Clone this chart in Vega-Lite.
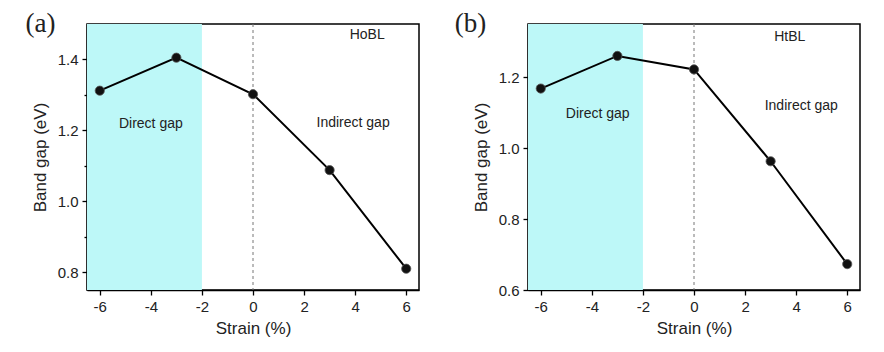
{
  "$schema": "https://vega.github.io/schema/vega-lite/v6.json",
  "background": "white",
  "padding": {"left": 24, "top": 9, "right": 10, "bottom": 5},
  "config": {
    "view": {"stroke": "black", "strokeWidth": 1.5},
    "font": "Liberation Sans",
    "axis": {
      "grid": false, "domainColor": "black", "domainWidth": 1.5, "tickColor": "black", "tickWidth": 1.3,
      "labelFont": "Liberation Sans", "labelFontSize": 15, "labelColor": "#222",
      "titleFont": "Liberation Sans", "titleFontSize": 17, "titleFontWeight": "normal", "titleColor": "#222",
      "labelPadding": 4
    }
  },
  "datasets": {
    "a": [
      {"strain": -6, "gap": 1.312},
      {"strain": -3, "gap": 1.405},
      {"strain": 0, "gap": 1.302},
      {"strain": 3, "gap": 1.088},
      {"strain": 6, "gap": 0.81}
    ],
    "b": [
      {"strain": -6, "gap": 1.168},
      {"strain": -3, "gap": 1.26},
      {"strain": 0, "gap": 1.222},
      {"strain": 3, "gap": 0.963},
      {"strain": 6, "gap": 0.673}
    ],
    "shade": [{"x1": -6.5, "x2": -2}],
    "zero": [{"x": 0}],
    "labA": [
      {"strain": -4.0, "gap": 1.217, "t": "Direct gap"},
      {"strain": 3.92, "gap": 1.222, "t": "Indirect gap"},
      {"strain": 4.47, "gap": 1.47, "t": "HoBL"}
    ],
    "labB": [
      {"strain": -3.77, "gap": 1.097, "t": "Direct gap"},
      {"strain": 4.2, "gap": 1.119, "t": "Indirect gap"},
      {"strain": 3.75, "gap": 1.314, "t": "HtBL"}
    ],
    "panA": [{"strain": -8.32, "gap": 1.5, "t": "(a)"}],
    "panB": [{"strain": -8.75, "gap": 1.35, "t": "(b)"}]
  },
  "spacing": 34,
  "hconcat": [
    {
      "width": 332, "height": 266,
      "layer": [
        {
          "data": {"name": "shade"},
          "mark": {"type": "rect", "color": "#bdf8f8"},
          "encoding": {
            "x": {"field": "x1", "type": "quantitative", "scale": {"domain": [-6.5, 6.5], "nice": false, "zero": false},
              "axis": {"values": [-6, -5, -4, -3, -2, -1, 0, 1, 2, 3, 4, 5, 6], "title": "Strain (%)", "titlePadding": 6,
                "tickSize": {"condition": {"test": "datum.value % 2 !== 0", "value": 3}, "value": 5},
                "labelExpr": "datum.value % 2 === 0 ? (datum.value < 0 ? '-' : '') + abs(datum.value) : ''"}},
            "x2": {"field": "x2"}
          }
        },
        {
          "data": {"name": "zero"},
          "mark": {"type": "rule", "color": "#777", "strokeDash": [3, 3], "strokeWidth": 1},
          "encoding": {"x": {"field": "x", "type": "quantitative"}}
        },
        {
          "data": {"name": "a"},
          "mark": {"type": "line", "color": "black", "strokeWidth": 2},
          "encoding": {
            "x": {"field": "strain", "type": "quantitative"},
            "y": {"field": "gap", "type": "quantitative", "scale": {"domain": [0.75, 1.5], "nice": false, "zero": false},
              "axis": {"values": [0.8, 0.9, 1.0, 1.1, 1.2, 1.3, 1.4], "title": "Band gap (eV)", "titlePadding": 8,
                "tickSize": {"condition": {"test": "round(datum.value * 10) % 2 !== 0", "value": 3}, "value": 5},
                "labelExpr": "round(datum.value * 10) % 2 === 0 ? format(datum.value, '.1f') : ''"}}
          }
        },
        {
          "data": {"name": "a"},
          "mark": {"type": "point", "filled": true, "color": "#111", "size": 85, "stroke": "#555", "strokeWidth": 0.8, "opacity": 1},
          "encoding": {
            "x": {"field": "strain", "type": "quantitative"},
            "y": {"field": "gap", "type": "quantitative"}
          }
        },
        {
          "data": {"name": "labA"},
          "mark": {"type": "text", "fontSize": 14, "color": "#222"},
          "encoding": {
            "x": {"field": "strain", "type": "quantitative"},
            "y": {"field": "gap", "type": "quantitative"},
            "text": {"field": "t"}
          }
        },
        {
          "data": {"name": "panA"},
          "mark": {"type": "text", "fontSize": 27, "font": "Liberation Serif", "color": "#222", "clip": false},
          "encoding": {
            "x": {"field": "strain", "type": "quantitative"},
            "y": {"field": "gap", "type": "quantitative"},
            "text": {"field": "t"}
          }
        }
      ]
    },
    {
      "width": 332, "height": 266,
      "layer": [
        {
          "data": {"name": "shade"},
          "mark": {"type": "rect", "color": "#bdf8f8"},
          "encoding": {
            "x": {"field": "x1", "type": "quantitative", "scale": {"domain": [-6.5, 6.5], "nice": false, "zero": false},
              "axis": {"values": [-6, -5, -4, -3, -2, -1, 0, 1, 2, 3, 4, 5, 6], "title": "Strain (%)", "titlePadding": 6,
                "tickSize": {"condition": {"test": "datum.value % 2 !== 0", "value": 3}, "value": 5},
                "labelExpr": "datum.value % 2 === 0 ? (datum.value < 0 ? '-' : '') + abs(datum.value) : ''"}},
            "x2": {"field": "x2"}
          }
        },
        {
          "data": {"name": "zero"},
          "mark": {"type": "rule", "color": "#777", "strokeDash": [3, 3], "strokeWidth": 1},
          "encoding": {"x": {"field": "x", "type": "quantitative"}}
        },
        {
          "data": {"name": "b"},
          "mark": {"type": "line", "color": "black", "strokeWidth": 2},
          "encoding": {
            "x": {"field": "strain", "type": "quantitative"},
            "y": {"field": "gap", "type": "quantitative", "scale": {"domain": [0.6, 1.35], "nice": false, "zero": false},
              "axis": {"values": [0.6, 0.7, 0.8, 0.9, 1.0, 1.1, 1.2, 1.3], "title": "Band gap (eV)", "titlePadding": 8,
                "tickSize": {"condition": {"test": "round(datum.value * 10) % 2 !== 0", "value": 3}, "value": 5},
                "labelExpr": "round(datum.value * 10) % 2 === 0 ? format(datum.value, '.1f') : ''"}}
          }
        },
        {
          "data": {"name": "b"},
          "mark": {"type": "point", "filled": true, "color": "#111", "size": 85, "stroke": "#555", "strokeWidth": 0.8, "opacity": 1},
          "encoding": {
            "x": {"field": "strain", "type": "quantitative"},
            "y": {"field": "gap", "type": "quantitative"}
          }
        },
        {
          "data": {"name": "labB"},
          "mark": {"type": "text", "fontSize": 14, "color": "#222"},
          "encoding": {
            "x": {"field": "strain", "type": "quantitative"},
            "y": {"field": "gap", "type": "quantitative"},
            "text": {"field": "t"}
          }
        },
        {
          "data": {"name": "panB"},
          "mark": {"type": "text", "fontSize": 27, "font": "Liberation Serif", "color": "#222", "clip": false},
          "encoding": {
            "x": {"field": "strain", "type": "quantitative"},
            "y": {"field": "gap", "type": "quantitative"},
            "text": {"field": "t"}
          }
        }
      ]
    }
  ]
}
